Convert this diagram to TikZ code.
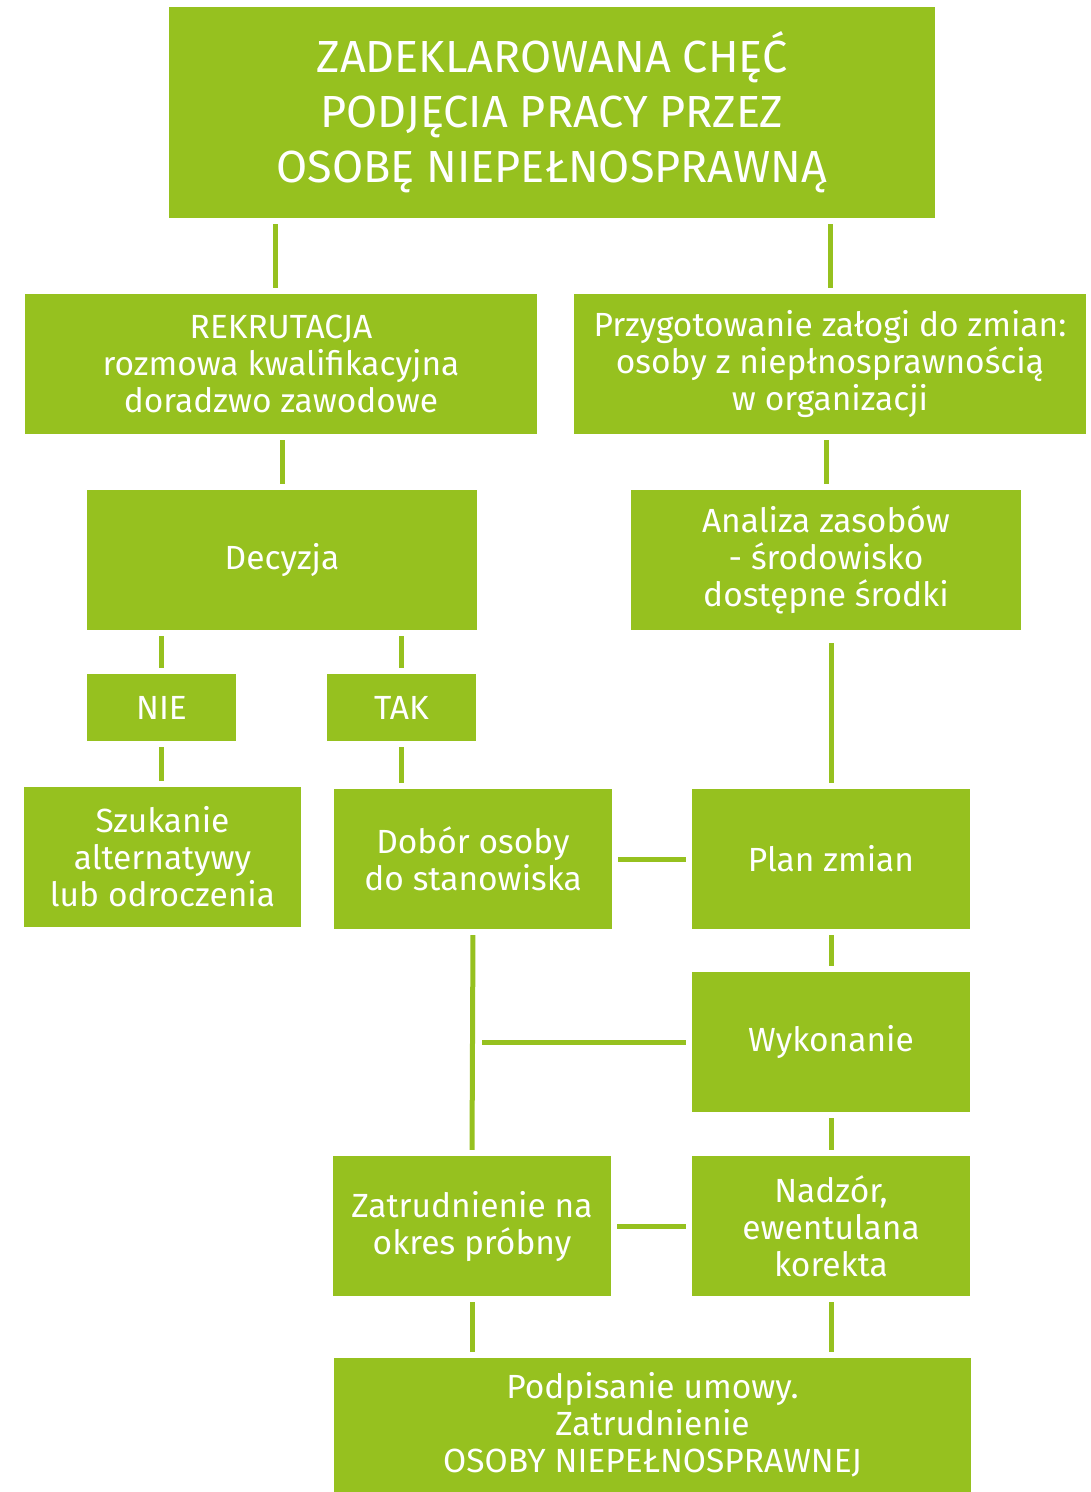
\documentclass[tikz,border=0pt]{standalone}
\usepackage{fontspec}
\IfFontExistsTF{Fira Sans Book}{\setmainfont{Fira Sans Book}}{\setmainfont{Fira Sans}}
\usetikzlibrary{calc}
\definecolor{leaf}{RGB}{150,193,31}

\tikzset{
  box/.style={fill=leaf,text=white,inner sep=0pt,align=center,font=\fontsize{33.5}{37}\selectfont},
  link/.style={draw=leaf,line width=5pt,shorten <=6pt,shorten >=6pt}
}

\begin{document}
\begin{tikzpicture}[x=1pt,y=-1pt]
    \useasboundingbox (0,0) rectangle (1091,1492);
    % top
    \node[box,minimum width=766,minimum height=211,font=\fontsize{45}{55}\selectfont] (top) at (552,112.5)
      {ZADEKLAROWANA CHĘĆ\\PODJĘCIA PRACY PRZEZ\\OSOBĘ NIEPEŁNOSPRAWNĄ};
    % left column
    \node[box,minimum width=512,minimum height=140] (rek) at (281,364)
      {REKRUTACJA\\rozmowa kwalifikacyjna\\doradzwo zawodowe};
    \node[box,minimum width=390,minimum height=140] (dec) at (282,560) {Decyzja};
    \node[box,minimum width=149,minimum height=67] (nie) at (161.5,707.5) {NIE};
    \node[box,minimum width=149,minimum height=67] (tak) at (401.5,707.5) {TAK};
    \node[box,minimum width=277,minimum height=140] (szu) at (162.5,857)
      {Szukanie\\alternatywy\\lub odroczenia};
    \node[box,minimum width=278,minimum height=140] (dob) at (473,859)
      {Dobór osoby\\do stanowiska};
    \node[box,minimum width=278,minimum height=140] (zat) at (472,1226)
      {Zatrudnienie na\\okres próbny};
    % right column
    \node[box,minimum width=512,minimum height=140] (prz) at (830,364)
      {Przygotowanie załogi do zmian:\\osoby z niepłnosprawnością\\w organizacji};
    \node[box,minimum width=390,minimum height=140] (ana) at (826,560)
      {Analiza zasobów\\- środowisko\\dostępne środki};
    \node[box,minimum width=278,minimum height=140] (plan) at (831,859) {Plan zmian};
    \node[box,minimum width=278,minimum height=140] (wyk) at (831,1042) {Wykonanie};
    \node[box,minimum width=278,minimum height=140] (nad) at (831,1226)
      {Nadzór,\\ewentulana\\korekta};
    % bottom
    \node[box,minimum width=637,minimum height=134] (pod) at (652.5,1425)
      {Podpisanie umowy.\\Zatrudnienie\\OSOBY NIEPEŁNOSPRAWNEJ};

    % connectors
    \draw[link] (top.south -| 275,0) -- (rek.north -| 275,0);
    \draw[link] (top.south -| prz.north) -- (prz.north);
    \draw[link] (rek.south -| dec.north) -- (dec.north);
    \draw[link] (prz.south -| ana.north) -- (ana.north);
    \draw[link] (dec.south -| nie.north) -- (nie.north);
    \draw[link] (dec.south -| tak.north) -- (tak.north);
    \draw[link] (nie.south) -- (nie.south |- szu.north);
    \draw[link] (tak.south) -- (tak.south |- dob.north);
    \draw[link,shorten <=13pt] (ana.south -| plan.north) -- (plan.north);
    \draw[link] (dob.east) -- (plan.west);
    \draw[link] (plan.south) -- (wyk.north);
    \draw[link] (dob.south) -- (zat.north);
    \draw[link,shorten >=9pt] (wyk.west) -- (wyk.west -| dob.south);
    \draw[link] (wyk.south) -- (nad.north);
    \draw[link] (zat.east) -- (nad.west);
    \draw[link] (zat.south) -- (zat.south |- pod.north);
    \draw[link] (nad.south) -- (nad.south |- pod.north);
\end{tikzpicture}
\end{document}
